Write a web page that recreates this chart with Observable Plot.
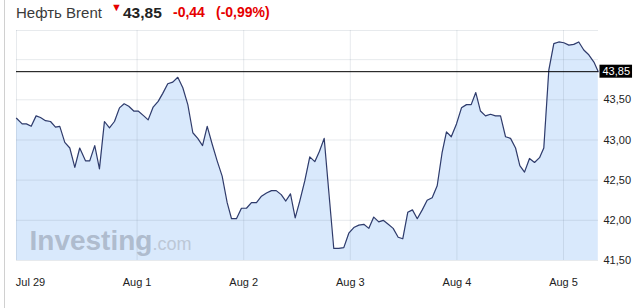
<!DOCTYPE html>
<html><head><meta charset="utf-8">
<script src="https://cdn.jsdelivr.net/npm/d3@7"></script>
<script src="https://cdn.jsdelivr.net/npm/@observablehq/plot@0.6"></script>
<style>
body{margin:0;background:#fff;font-family:"Liberation Sans",Arial,sans-serif;width:644px;height:308px;overflow:hidden;position:relative}
#border{position:absolute;left:4px;top:0;width:1px;height:308px;background:#d0d0d0}
#title{position:relative;height:28px}
#title span{position:absolute;top:4px;line-height:17px;white-space:nowrap}
#name{left:16px;font-size:15px;color:#3a3a3a}
#arrow{left:111px;font-size:11px;color:#e60000;top:1px !important;line-height:12px !important}
#price{left:123px;font-size:15.5px;font-weight:bold;color:#222}
#chg{left:173px;font-size:14px;font-weight:bold;color:#e60000}
#pct{left:216px;font-size:14px;font-weight:bold;color:#e60000}
svg{display:block}
</style></head>
<body>
<div id="border"></div>
<div id="title"><span id="name">Нефть Brent</span><span id="arrow">▼</span><span id="price">43,85</span><span id="chg">-0,44</span><span id="pct">(-0,99%)</span></div>
<script>
const days = [-0.131,-0.078,-0.038,0.007,0.053,0.094,0.141,0.188,0.235,0.275,0.322,0.369,0.416,0.462,0.516,0.556,0.603,0.647,0.694,0.741,0.788,0.835,0.879,0.922,0.969,1.010,1.063,1.104,1.151,1.198,1.241,1.288,1.335,1.382,1.429,1.476,1.523,1.569,1.614,1.658,1.704,1.751,1.798,1.845,1.886,1.932,1.979,2.026,2.073,2.120,2.167,2.214,2.261,2.305,2.352,2.395,2.439,2.483,2.526,2.573,2.620,2.667,2.711,2.755,2.798,2.845,2.892,2.939,2.986,3.033,3.080,3.127,3.174,3.220,3.267,3.309,3.356,3.402,3.449,3.492,3.539,3.583,3.628,3.675,3.721,3.768,3.815,3.862,3.902,3.947,3.996,4.043,4.090,4.134,4.177,4.221,4.268,4.315,4.362,4.409,4.456,4.503,4.550,4.590,4.634,4.681,4.728,4.775,4.815,4.862,4.909,4.956,5.003,5.050,5.096,5.143,5.190,5.237,5.285,5.326];
const prices = [43.27,43.20,43.20,43.17,43.30,43.28,43.24,43.23,43.16,43.17,42.97,42.90,42.66,42.90,42.74,42.74,42.93,42.64,43.23,43.15,43.23,43.40,43.45,43.42,43.36,43.36,43.30,43.25,43.41,43.48,43.58,43.70,43.72,43.78,43.65,43.44,43.09,43.02,42.93,43.17,42.95,42.74,42.55,42.22,42.02,42.02,42.15,42.15,42.22,42.22,42.30,42.34,42.37,42.37,42.32,42.24,42.33,42.03,42.24,42.49,42.79,42.73,42.86,43.02,42.36,41.65,41.65,41.66,41.84,41.91,41.94,41.95,41.90,42.04,41.98,42.00,41.95,41.90,41.79,41.77,42.10,42.13,42.02,42.13,42.25,42.28,42.43,42.85,43.10,43.04,43.20,43.40,43.44,43.44,43.59,43.36,43.30,43.32,43.30,43.30,43.04,43.02,42.90,42.68,42.60,42.77,42.72,42.78,42.90,43.87,44.20,44.22,44.21,44.18,44.19,44.22,44.12,44.06,43.97,43.85];
const dayTicks = [0,1,2,3,4,5];
const dayLabels = ["Jul 29","Aug 1","Aug 2","Aug 3","Aug 4","Aug 5"];
const priceTicks = [41.5,42,42.5,43,43.5];
const gridPrices = [41.5,42,42.5,43,43.5,44];
const lastPrice = 43.85;
const xDomain = [-0.131,5.328];
const yDomain = [41.5,44.3625];

const data = days.map((d,i)=>({d, p: prices[i]}));
const fmt = v => v.toFixed(2).replace(".", ",");
const gridStroke = "#6f8194";

const chart = Plot.plot({
  width:644, height:280,
  marginLeft:16, marginRight:46, marginTop:2, marginBottom:48,
  x:{domain:xDomain, label:null},
  y:{domain:yDomain, label:null},
  style:{fontFamily:"Liberation Sans, Arial, sans-serif", fontSize:"11px", color:"#333", background:"white", overflow:"visible"},
  marks:[
    Plot.areaY(data,{x:"d", y1:()=>yDomain[0], y2:"p", fill:"#d9e9fc"}),
    Plot.ruleX(dayTicks.slice(1), {stroke:gridStroke, strokeOpacity:0.17}),
    Plot.ruleY(gridPrices, {stroke:gridStroke, strokeOpacity:0.17}),
    Plot.ruleY([yDomain[1]], {stroke:gridStroke, strokeOpacity:0.17}),
    Plot.ruleX([xDomain[0]], {stroke:gridStroke, strokeOpacity:0.17}),
    Plot.text(["Investing"], {frameAnchor:"bottom-left", dx:13, dy:-11, lineAnchor:"bottom", textAnchor:"start", fontSize:28, fontWeight:"bold", fill:"#aab6c8", fillOpacity:0.9}),
    Plot.text([".com"], {frameAnchor:"bottom-left", dx:136, dy:-11, lineAnchor:"bottom", textAnchor:"start", fontSize:18, fill:"#bcc7d6"}),
    Plot.line(data,{x:"d", y:"p", stroke:"#2f3b6b", strokeWidth:1.2}),
    Plot.ruleY([lastPrice],{stroke:"#000", strokeWidth:1}),
    Plot.axisX(dayTicks,{label:null, tickSize:0, tickPadding:18, tickFormat:d=>dayLabels[dayTicks.indexOf(d)], fill:"#222"}),
    Plot.axisY(priceTicks,{label:null, anchor:"right", tickSize:0, tickPadding:5, tickFormat:fmt, fill:"#222"}),
    Plot.text([lastPrice],{y:d=>d, frameAnchor:"right", dx:4, textAnchor:"start", text:fmt, fill:"white", className:"lastlabel"})
  ]
});
document.body.appendChild(chart);

const t = chart.querySelector("g.lastlabel text");
if (t) {
  const bb = t.getBBox();
  const r = document.createElementNS("http://www.w3.org/2000/svg","rect");
  r.setAttribute("x", bb.x - 3);
  r.setAttribute("y", bb.y - 0.5);
  r.setAttribute("width", bb.width + 5);
  r.setAttribute("height", bb.height + 1);
  r.setAttribute("fill", "#000");
  const tr = t.getAttribute("transform");
  if (tr) r.setAttribute("transform", tr);
  t.parentNode.insertBefore(r, t);
}
</script>
</body></html>
